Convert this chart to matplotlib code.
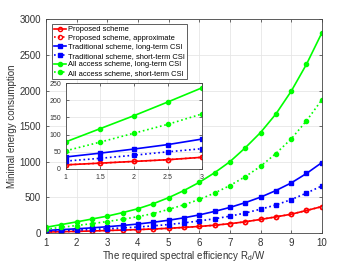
import numpy as np
import matplotlib.pyplot as plt

plt.rcParams['font.family'] = ['Liberation Sans', 'DejaVu Sans']
plt.rcParams['mathtext.fontset'] = 'custom'
plt.rcParams['mathtext.rm'] = 'Liberation Sans'
plt.rcParams['mathtext.it'] = 'Liberation Sans'

x = np.arange(1, 10.01, 0.5)

proposed = [12, 17, 22, 27, 34, 40, 47, 55, 65, 77, 91, 108, 130, 156, 190, 225, 263, 315, 370]
proposed_approx = [12, 17, 22, 27, 34, 40, 47, 55, 65, 77, 91, 108, 130, 156, 190, 225, 263, 315, 370]
trad_long = [35, 46, 58, 71, 87, 105, 125, 150, 178, 212, 253, 302, 358, 425, 502, 595, 702, 835, 988]
trad_short = [23, 31, 40, 50, 59, 70, 83, 99, 118, 141, 168, 199, 235, 280, 333, 393, 468, 560, 660]
all_long = [79, 117, 155, 195, 236, 285, 340, 410, 495, 595, 710, 845, 1000, 1195, 1410, 1670, 1990, 2370, 2810]
all_short = [53, 78, 104, 130, 160, 192, 228, 272, 330, 395, 470, 560, 665, 790, 935, 1115, 1320, 1575, 1870]

labels = ["Proposed scheme", "Proposed scheme, approximate",
          "Traditional scheme, long-term CSI", "Traditional scheme, short-term CSI",
          "All access scheme, long-term CSI", "All access scheme, short-term CSI"]

series = [
    (proposed, 'red', '-', 'o', 'none'),
    (proposed_approx, 'red', ':', 'o', 'none'),
    (trad_long, 'blue', '-', 's', 'blue'),
    (trad_short, 'blue', ':', 's', 'blue'),
    (all_long, '#00ff00', '-', 'o', '#00ff00'),
    (all_short, '#00ff00', ':', 'o', '#00ff00'),
]


def style_axes(ax, fs):
    ax.grid(True, color='#e6e6e6', linewidth=0.6)
    ax.set_axisbelow(True)
    ax.tick_params(direction='in', top=True, right=True, labelsize=fs, length=2.5, width=0.5,
                   colors='#333333')
    for s in ax.spines.values():
        s.set_linewidth(0.6)
        s.set_color('#444444')


fig = plt.figure(figsize=(3.56, 2.62), dpi=100)
ax = fig.add_axes([0.129, 0.111, 0.775, 0.815])

for (vals, c, ls, m, fc), lab in zip(series, labels):
    ax.plot(x, vals, color=c, linestyle=ls, marker=m, markerfacecolor=fc,
            markersize=3, linewidth=1.2, markeredgewidth=1.0, label=lab)

ax.set_xlim(1, 10)
ax.set_ylim(0, 3000)
ax.set_xticks(range(1, 11))
ax.set_yticks(range(0, 3001, 500))
style_axes(ax, 7)
ax.set_xlabel("The required spectral efficiency R$_{d}$/W", fontsize=7, labelpad=1, color='#333333')
ax.set_ylabel("Minimal energy consumption", fontsize=7, labelpad=2, color='#333333')

ins = fig.add_axes([0.185, 0.355, 0.382, 0.328])
n = 5
for (vals, c, ls, m, fc), lab in zip(series, labels):
    ins.plot(x[:n], vals[:n], color=c, linestyle=ls, marker=m, markerfacecolor=fc,
             markersize=3, linewidth=1.2, markeredgewidth=1.0)
ins.set_xlim(1, 3)
ins.set_ylim(0, 250)
ins.set_xticks([1, 1.5, 2, 2.5, 3])
ins.set_xticklabels(['1', '1.5', '2', '2.5', '3'])
ins.set_yticks(range(0, 251, 50))
ins.set_facecolor('white')
style_axes(ins, 5)

handles, labs = ax.get_legend_handles_labels()
leg = fig.legend(handles, labs, loc='upper left', bbox_to_anchor=(0.136, 0.922), fontsize=5.4,
                 frameon=True, fancybox=False, edgecolor='#444444', borderpad=0.25,
                 handlelength=1.6, labelspacing=0.2, handletextpad=0.3, framealpha=1)
leg.get_frame().set_linewidth(0.6)

fig.savefig("out.png", dpi=100)
